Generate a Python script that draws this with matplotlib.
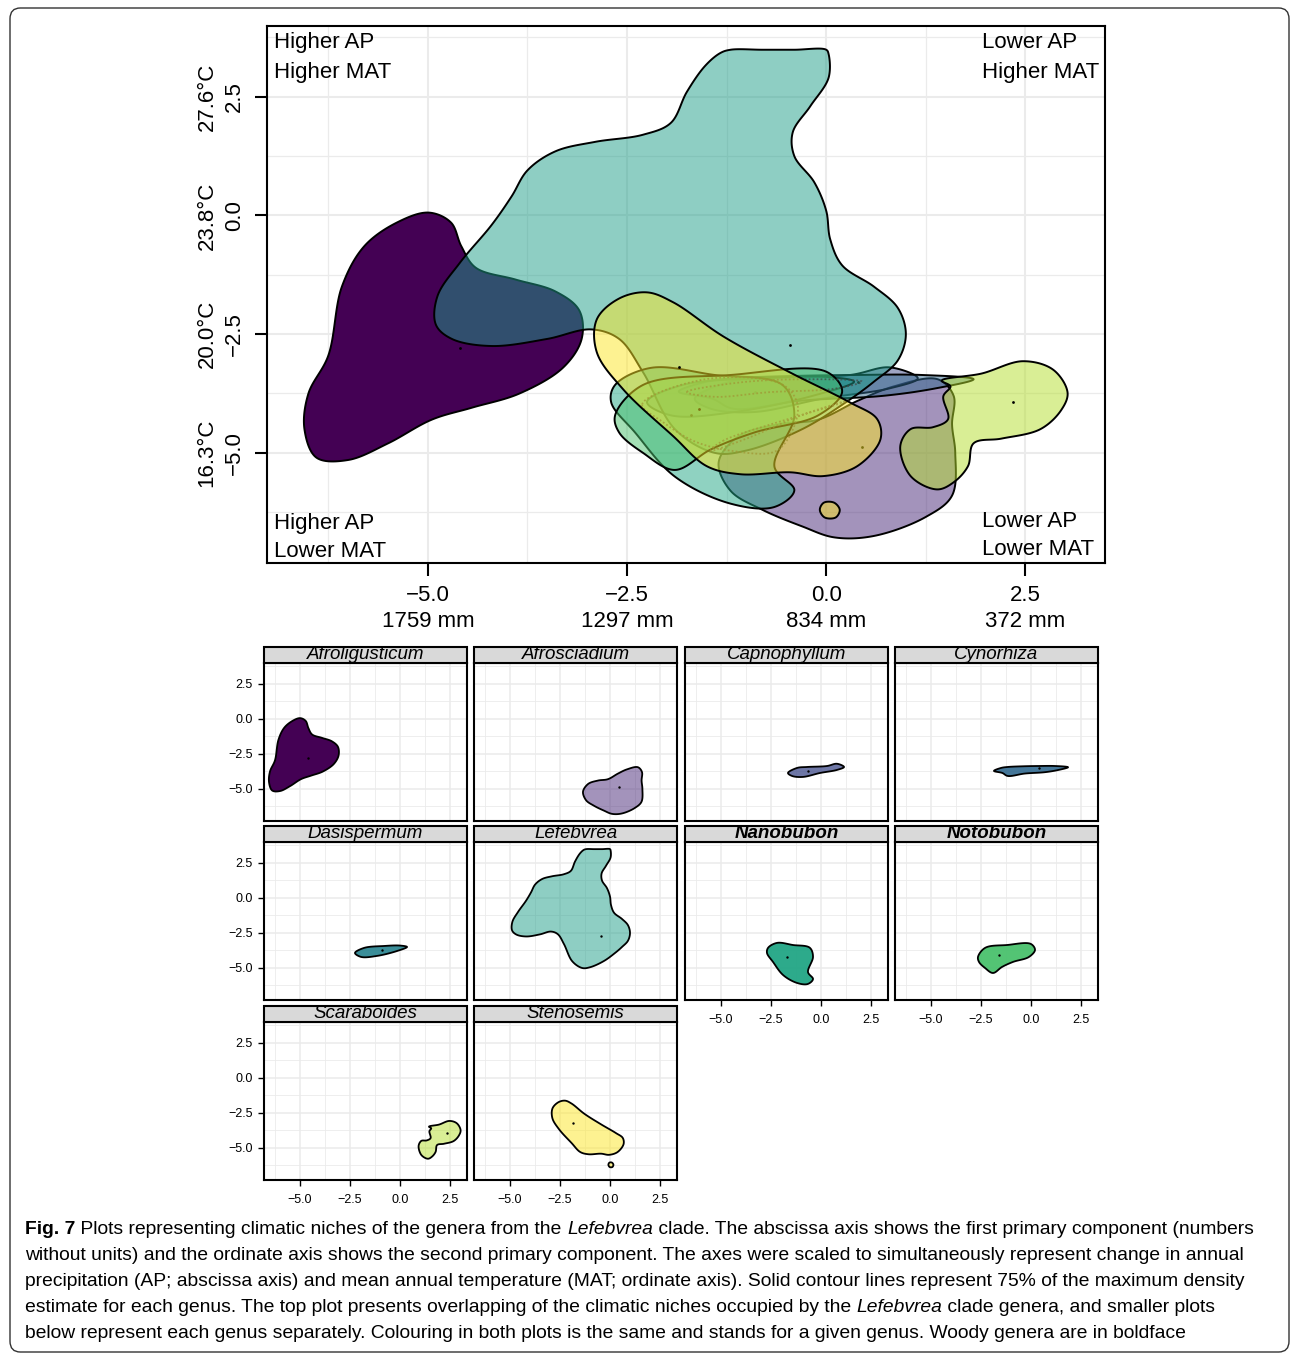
import numpy as np
import matplotlib
matplotlib.use("Agg")
import matplotlib.pyplot as plt
from matplotlib.colors import to_rgba
from matplotlib.patches import FancyBboxPatch, Rectangle

# ---------------- data ----------------
genera = ["Afroligusticum", "Afrosciadium", "Capnophyllum", "Cynorhiza", "Dasispermum",
          "Lefebvrea", "Nanobubon", "Notobubon", "Scaraboides", "Stenosemis"]
woody = ["Nanobubon", "Notobubon"]
colors = ["#440154", "#482878", "#3E4A89", "#31688E", "#26828E",
          "#1F9E89", "#21A685", "#4AC16D", "#B4DE2C", "#FDE725"]
main_alpha = [1.0, 0.5, 0.5, 0.5, 0.5, 0.5, 0.5, 0.5, 0.5, 0.5]
panel_alpha = [1.0, 0.5, 0.75, 0.9, 0.9, 0.5, 0.95, 0.95, 0.5, 0.5]

# 75% density contour outlines (PC1, PC2)
afroligusticum_x = [-4.99, -4.71, -4.58, -4.4, -3.9, -3.4, -3.1, -3.07, -3.3, -3.85, -4.45, -4.95,
                    -5.5, -6.0, -6.4, -6.55, -6.5, -6.25, -6.08, -5.8, -5.39]
afroligusticum_y = [0.06, -0.15, -0.65, -1.1, -1.35, -1.6, -2.0, -2.6, -3.2, -3.75, -4.05, -4.3,
                    -4.8, -5.15, -5.1, -4.5, -3.75, -2.95, -1.5, -0.65, -0.15]
afrosciadium_x = [-1.35, -1.1, -0.6, -0.1, 0.4, 0.85, 1.4, 1.6, 1.58, 1.62, 1.58, 1.25, 0.6, 0.1,
                  -0.3, -0.8, -1.2]
afrosciadium_y = [-5.2, -4.65, -4.4, -4.3, -3.9, -3.6, -3.45, -3.8, -4.4, -5.0, -5.9, -6.35,
                  -6.75, -6.78, -6.55, -6.2, -5.8]
capnophyllum_x = [-1.65, -1.2, -0.7, 0.3, 0.8, 1.15, 0.8, -0.05, -0.9, -1.45]
capnophyllum_y = [-3.86, -3.5, -3.43, -3.36, -3.2, -3.43, -3.64, -3.86, -4.14, -4.07]
cynorhiza_x = [-1.85, -1.5, -1.17, -0.4, 0.36, 1.2, 1.85, 1.38, 0.71, -0.31, -1.17, -1.43]
cynorhiza_y = [-3.71, -3.5, -3.43, -3.38, -3.36, -3.36, -3.45, -3.64, -3.8, -3.9, -4.07, -3.86]
dasispermum_x = [-2.25, -1.8, -0.8, 0.0, 0.35, -0.15, -1.15, -1.95]
dasispermum_y = [-3.93, -3.57, -3.43, -3.4, -3.5, -3.79, -4.14, -4.21]
lefebvrea_x = [-4.9, -4.88, -4.6, -4.2, -3.95, -3.75, -3.4, -2.9, -2.3, -1.95, -1.75, -1.52, -1.33,
               -1.2, -0.8, -0.4, 0.0, 0.03, 0.03, -0.2, -0.42, -0.4, -0.15, 0.0, 0.05, 0.2, 0.6,
               0.9, 1.0, 0.9, 0.6, 0.26, -0.3, -1.0, -1.4, -1.9, -2.3, -2.6, -2.95, -3.5, -4.2,
               -4.7]
lefebvrea_y = [-2.3, -1.7, -1.0, -0.2, 0.4, 0.95, 1.35, 1.55, 1.7, 1.95, 2.6, 3.15, 3.42,
               3.49, 3.49, 3.49, 3.49, 3.4, 2.9, 2.3, 1.75, 1.25, 0.7, 0.1, -0.5, -1.05, -1.5,
               -1.95, -2.5, -3.05, -3.5, -3.92, -4.5, -4.95, -5.0, -4.5, -3.3, -2.6, -2.4, -2.6,
               -2.75, -2.6]
nanobubon_x = [-2.65, -2.2, -1.4, -0.55, -0.4, -0.65, -0.4, -0.65, -1.2, -1.9, -2.4, -2.7]
nanobubon_y = [-3.57, -3.21, -3.36, -3.57, -4.21, -5.29, -5.79, -6.14, -6.07, -5.5, -4.57, -3.93]
notobubon_x = [-2.65, -2.3, -1.2, 0.0, 0.2, -0.1, -0.9, -1.45, -1.9, -2.3, -2.6]
notobubon_y = [-4.21, -3.57, -3.36, -3.29, -3.71, -4.21, -4.57, -4.93, -5.36, -5.0, -4.57]
scaraboides_x = [1.45, 1.95, 2.47, 2.85, 3.03, 2.95, 2.69, 2.2, 1.85, 1.78, 1.6, 1.39, 1.06,
                 0.93, 1.06, 1.34, 1.53, 1.47, 1.56]
scaraboides_y = [-3.48, -3.33, -3.07, -3.25, -3.73, -4.1, -4.5, -4.7, -4.8, -5.28, -5.62, -5.77,
                 -5.49, -4.86, -4.5, -4.46, -4.29, -3.81, -3.6]
stenosemis_x = [-2.25, -2.6, -2.88, -2.88, -2.55, -1.92, -1.5, -1.08, -0.45, -0.04, 0.39, 0.68,
                0.64, 0.3, -0.45, -1.29, -1.92]
stenosemis_y = [-1.62, -1.75, -2.19, -2.88, -3.66, -4.65, -5.28, -5.45, -5.41, -5.49, -5.28,
                -4.72, -4.29, -3.94, -3.31, -2.55, -1.83]
stenosemis_island_x = [-0.08, -0.03, 0.1, 0.17, 0.12, -0.02]
stenosemis_island_y = [-6.2, -6.05, -6.05, -6.2, -6.36, -6.36]

# secondary (dotted) density contours visible in the overlap plot
dotted_a_x = [-2.31, -1.52, -0.55, -0.36, -0.43, -0.64, -1.14, -1.65, -2.06]
dotted_a_y = [-3.98, -3.45, -3.56, -3.98, -4.55, -4.97, -4.97, -4.76, -4.34]
dotted_b_x = [-1.75, -1.1, -0.3, 0.45, 0.1, -0.7, -1.4]
dotted_b_y = [-3.72, -3.52, -3.45, -3.5, -3.65, -3.72, -3.82]
dotted_c_x = [-1.3, -0.6, 0.1, 0.3, -0.3, -1.0, -1.45]
dotted_c_y = [-4.75, -4.35, -4.0, -3.88, -4.2, -4.7, -4.95]

outlines = [
    [(afroligusticum_x, afroligusticum_y)],
    [(afrosciadium_x, afrosciadium_y)],
    [(capnophyllum_x, capnophyllum_y)],
    [(cynorhiza_x, cynorhiza_y)],
    [(dasispermum_x, dasispermum_y)],
    [(lefebvrea_x, lefebvrea_y)],
    [(nanobubon_x, nanobubon_y)],
    [(notobubon_x, notobubon_y)],
    [(scaraboides_x, scaraboides_y)],
    [(stenosemis_x, stenosemis_y), (stenosemis_island_x, stenosemis_island_y)],
]
dotted_outlines = [(dotted_a_x, dotted_a_y), (dotted_b_x, dotted_b_y), (dotted_c_x, dotted_c_y)]
centroid_x = [-4.6, 0.45, -0.65, 0.4, -0.9, -0.45, -1.7, -1.6, 2.35, -1.85]
centroid_y = [-2.8, -4.87, -3.71, -3.5, -3.71, -2.72, -4.2, -4.07, -3.93, -3.2]

tick_vals = [-5.0, -2.5, 0.0, 2.5]
minor_vals = [-6.25, -3.75, -1.25, 1.25, 3.75]
x_tick_text = ["\u22125.0", "\u22122.5", "0.0", "2.5"]
ap_labels = ["1759 mm", "1297 mm", "834 mm", "372 mm"]
mat_labels = ["16.3\u00b0C", "20.0\u00b0C", "23.8\u00b0C", "27.6\u00b0C"]
corner_texts = ["Higher AP\nHigher MAT", "Lower AP\nHigher MAT", "Higher AP\nLower MAT", "Lower AP\nLower MAT"]

caption_lines = [
    [("Fig. 7", "bold", "normal"), (" Plots representing climatic niches of the genera from the ", "normal", "normal"),
     ("Lefebvrea", "normal", "italic"), (" clade. The abscissa axis shows the first primary component (numbers", "normal", "normal")],
    [("without units) and the ordinate axis shows the second primary component. The axes were scaled to simultaneously represent change in annual", "normal", "normal")],
    [("precipitation (AP; abscissa axis) and mean annual temperature (MAT; ordinate axis). Solid contour lines represent 75% of the maximum density", "normal", "normal")],
    [("estimate for each genus. The top plot presents overlapping of the climatic niches occupied by the ", "normal", "normal"),
     ("Lefebvrea", "normal", "italic"), (" clade genera, and smaller plots", "normal", "normal")],
    [("below represent each genus separately. Colouring in both plots is the same and stands for a given genus. Woody genera are in boldface", "normal", "normal")],
]

# ---------------- helpers ----------------
W, H, DPI = 1290, 1354, 100
plt.rcParams["font.family"] = ["Liberation Sans", "DejaVu Sans"]
fig = plt.figure(figsize=(W / DPI, H / DPI), dpi=DPI)


def rect(l, t, r, b):
    return [l / W, 1 - b / H, (r - l) / W, (b - t) / H]


def smooth_closed(xs, ys, n=24):
    P = np.column_stack([xs, ys]).astype(float)
    S = P * np.array([80.0, 47.5])
    m = len(P)
    out = []
    for i in range(m):
        idx = [(i - 1) % m, i, (i + 1) % m, (i + 2) % m]
        p = [P[k] for k in idx]
        s = [S[k] for k in idx]
        t0 = 0.0
        t1 = t0 + max(np.linalg.norm(s[1] - s[0]), 1e-6) ** 0.5
        t2 = t1 + max(np.linalg.norm(s[2] - s[1]), 1e-6) ** 0.5
        t3 = t2 + max(np.linalg.norm(s[3] - s[2]), 1e-6) ** 0.5
        t = np.linspace(t1, t2, n, endpoint=False)[:, None]
        A1 = (t1 - t) / (t1 - t0) * p[0] + (t - t0) / (t1 - t0) * p[1]
        A2 = (t2 - t) / (t2 - t1) * p[1] + (t - t1) / (t2 - t1) * p[2]
        A3 = (t3 - t) / (t3 - t2) * p[2] + (t - t2) / (t3 - t2) * p[3]
        B1 = (t2 - t) / (t2 - t0) * A1 + (t - t0) / (t2 - t0) * A2
        B2 = (t3 - t) / (t3 - t1) * A2 + (t - t1) / (t3 - t1) * A3
        C = (t2 - t) / (t2 - t1) * B1 + (t - t1) / (t2 - t1) * B2
        out.append(C)
    out = np.vstack(out)
    return out[:, 0], out[:, 1]


def draw_genus(ax, i, alpha, lw, z, dot=2.5):
    for xs, ys in outlines[i]:
        sx, sy = smooth_closed(xs, ys)
        ax.fill(sx, sy, facecolor=to_rgba(colors[i], alpha), edgecolor="black",
                linewidth=lw, zorder=z)
    ax.scatter([centroid_x[i]], [centroid_y[i]], s=dot, color="black", zorder=z + 0.5,
               linewidths=0)


def style_grid(ax, major_lw, minor_lw, xlim, ylim):
    ax.set_xticks(tick_vals)
    ax.set_yticks(tick_vals)
    ax.set_xticks(minor_vals, minor=True)
    ax.set_yticks(minor_vals, minor=True)
    ax.set_xlim(*xlim)
    ax.set_ylim(*ylim)
    ax.grid(True, which="major", color="#EBEBEB", linewidth=major_lw, zorder=0)
    ax.grid(True, which="minor", color="#EBEBEB", linewidth=minor_lw, zorder=0)
    ax.set_axisbelow(True)
    ax.tick_params(which="minor", length=0)


# ---------------- outer frame ----------------
frame = FancyBboxPatch((10 / W, 1 - 1352 / H), (1289 - 10) / W, (1352 - 8) / H,
                       boxstyle="round,pad=0,rounding_size=0.008", transform=fig.transFigure,
                       facecolor="none", edgecolor="#333333", linewidth=1.0)
fig.patches.append(frame)

# ---------------- main plot ----------------
ax = fig.add_axes(rect(267, 26, 1105, 563))
style_grid(ax, 1.5, 0.9, (-7.02, 3.5), (-7.32, 3.99))
for i in range(len(genera)):
    draw_genus(ax, i, main_alpha[i], 1.4, 2 + i, dot=4)
    if genera[i] == "Notobubon":
        for xs, ys in dotted_outlines:
            sx, sy = smooth_closed(xs, ys)
            ax.plot(np.append(sx, sx[0]), np.append(sy, sy[0]), color="#444444",
                    linestyle=(0, (1, 1.2)), linewidth=1.3, alpha=0.7, zorder=2 + i + 0.6)
ax.set_xlim(-7.02, 3.5)
ax.set_ylim(-7.32, 3.99)
for sp in ax.spines.values():
    sp.set_linewidth(1.5)
ax.set_xticklabels([f"{a}\n{b}" for a, b in zip(x_tick_text, ap_labels)], fontsize=16,
                   linespacing=1.3)
ax.set_yticklabels([f"{b}\n{a}" for a, b in zip(x_tick_text, mat_labels)], fontsize=16,
                   rotation=90, va="center", ha="right", multialignment="center",
                   linespacing=1.4)
ax.tick_params(which="major", direction="out", length=9, width=1.5, pad=7)
ax.text(0.008, 0.988, corner_texts[0], transform=ax.transAxes, fontsize=16, va="top", ha="left",
        linespacing=1.55, zorder=20)
ax.text(0.853, 0.988, corner_texts[1], transform=ax.transAxes, fontsize=16, va="top", ha="left",
        linespacing=1.55, zorder=20)
ax.text(0.008, 0.002, corner_texts[2], transform=ax.transAxes, fontsize=16, va="bottom", ha="left",
        linespacing=1.45, zorder=20)
ax.text(0.853, 0.006, corner_texts[3], transform=ax.transAxes, fontsize=16, va="bottom", ha="left",
        linespacing=1.45, zorder=20)

# ---------------- small panels ----------------
col_left = [264, 474, 685, 895]
row_top = [663, 842, 1022]
pw, ph, sh = 203, 158, 16
for i, name in enumerate(genera):
    r, c = divmod(i, 4)
    l, t = col_left[c], row_top[r]
    a = fig.add_axes(rect(l, t, l + pw, t + ph))
    style_grid(a, 1.1, 0.6, (-6.8, 3.35), (-7.29, 4.0))
    draw_genus(a, i, panel_alpha[i], 1.3, 2, dot=3)
    a.set_xlim(-6.8, 3.35)
    a.set_ylim(-7.29, 4.0)
    for sp in a.spines.values():
        sp.set_linewidth(1.5)
    show_y = (c == 0)
    show_x = (r == 2) or (r == 1 and c >= 2)
    a.tick_params(which="major", direction="out", width=1.0, labelsize=9, pad=4,
                  length=4, left=show_y, labelleft=show_y, bottom=show_x, labelbottom=show_x)
    a.tick_params(axis="x", pad=6)
    a.set_xticklabels(x_tick_text)
    a.set_yticklabels(x_tick_text)
    # strip
    fig.patches.append(Rectangle((l / W, 1 - t / H), pw / W, sh / H, transform=fig.transFigure,
                                 facecolor="#D9D9D9", edgecolor="black", linewidth=1.5))
    fig.text((l + pw / 2) / W, 1 - (t - sh / 2 - 0.5) / H, name, ha="center", va="center",
             fontsize=13.5, style="italic", weight="bold" if name in woody else "normal")

# ---------------- caption ----------------
cap_family = ["Liberation Sans Narrow", "Liberation Sans"]
renderer = fig.canvas.get_renderer()
probe = fig.text(0, 0, "".join(s for s, _, _ in caption_lines[0]), fontsize=14, family=cap_family)
wpx = probe.get_window_extent(renderer).width
probe.remove()
cap_size = 14 * 1232 / wpx
line_y = [1229, 1255, 1281, 1307, 1333]
for segs, yc in zip(caption_lines, line_y):
    x = 25.0
    for s, wgt, sty in segs:
        t = fig.text(x / W, 1 - yc / H, s, fontsize=cap_size, family=cap_family, weight=wgt,
                     style=sty, va="center", ha="left")
        x = t.get_window_extent(renderer).x1

fig.savefig("out.png", dpi=DPI)
